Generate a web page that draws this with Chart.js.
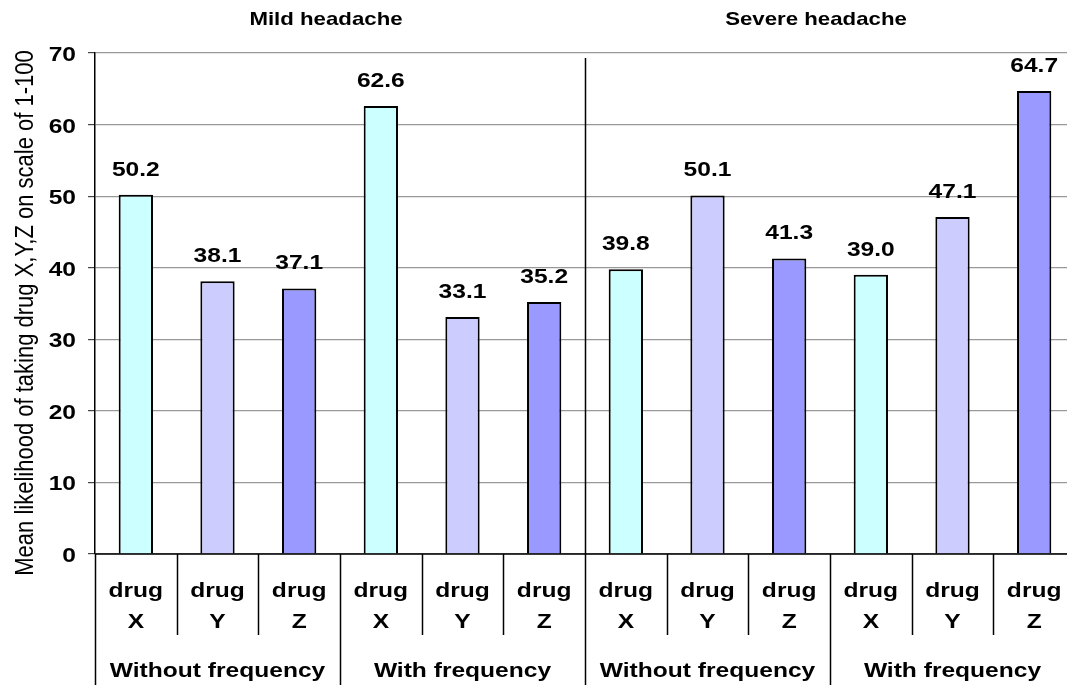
<!DOCTYPE html>
<html>
<head>
<meta charset="utf-8">
<title>Likelihood of taking drug X, Y, Z</title>
<script src="https://cdn.jsdelivr.net/npm/chart.js@4.4.1/dist/chart.umd.min.js"></script>
<style>
  html, body { margin: 0; padding: 0; background: #fff; overflow: hidden; }
  canvas { display: block; }
</style>
</head>
<body>
<!-- plot runs a few pixels past the right edge of the window -->
<canvas id="drugChart" width="1076" height="685"></canvas>
<script>
// chart data
const panels = ['Mild headache', 'Severe headache'];
const frequencyGroups = ['Without frequency', 'With frequency', 'Without frequency', 'With frequency'];
const drugLetters = ['X', 'Y', 'Z', 'X', 'Y', 'Z', 'X', 'Y', 'Z', 'X', 'Y', 'Z'];
const likelihood = [50.2, 38.1, 37.1, 62.6, 33.1, 35.2, 39.8, 50.1, 41.3, 39.0, 47.1, 64.7];
const yTicks = [0, 10, 20, 30, 40, 50, 60, 70];
const yTitle = 'Mean likelihood of taking drug X,Y,Z on scale of 1-100';

const drugColors = { X: '#CCFFFF', Y: '#CCCCFF', Z: '#9999FF' };
const FONT = "'Liberation Sans', Arial, sans-serif";
const STRETCH = 1.17;

function drawText(ctx, str, x, y, font, align) {
    ctx.save();
    ctx.translate(x, y);
    ctx.scale(STRETCH, 1);
    ctx.font = font;
    ctx.textAlign = align || 'center';
    ctx.textBaseline = 'alphabetic';
    ctx.fillText(str, 0, 0);
    ctx.restore();
}

function drawLine(ctx, x1, y1, x2, y2) {
    ctx.beginPath();
    ctx.moveTo(x1, y1);
    ctx.lineTo(x2, y2);
    ctx.stroke();
}

// labels, category boxes and panel titles
const headacheLabels = {
    id: 'headacheLabels',
    afterDatasetsDraw(chart) {
        const ctx = chart.ctx;
        const area = chart.chartArea;
        const y = chart.scales.y;
        const step = (area.right - area.left) / drugLetters.length;
        const edge = k => area.left + k * step;

        ctx.save();
        ctx.fillStyle = '#000';
        ctx.strokeStyle = '#000';
        ctx.lineWidth = 1.5;

        drawLine(ctx, area.left, area.bottom, area.right, area.bottom);

        for (let k = 0; k <= drugLetters.length; k++) {
            const ex = Math.round(edge(k)) + 0.5;
            drawLine(ctx, ex, area.bottom, ex, k % 3 === 0 ? chart.height : 635);
            if (k === 6) drawLine(ctx, ex, area.top + 5, ex, area.bottom);
        }

        chart.getDatasetMeta(0).data.forEach((bar, i) => {
            drawText(ctx, likelihood[i].toFixed(1), bar.x, bar.y - 19, 'bold 21px ' + FONT);
        });

        drugLetters.forEach((d, i) => {
            const cx = edge(i + 0.5);
            drawText(ctx, 'drug', cx, 597, 'bold 21px ' + FONT);
            drawText(ctx, d, cx, 628, 'bold 21px ' + FONT);
        });

        frequencyGroups.forEach((g, j) => {
            drawText(ctx, g, edge(3 * j + 1.5), 677, 'bold 21px ' + FONT);
        });

        panels.forEach((p, j) => {
            drawText(ctx, p, edge(6 * j + 3) - 14, 25, 'bold 19px ' + FONT);
        });

        yTicks.forEach(v => {
            drawText(ctx, String(v), 76, y.getPixelForValue(v) + 8, 'bold 21px ' + FONT, 'right');
        });

        ctx.save();
        ctx.translate(33, 313);
        ctx.scale(STRETCH, 1);
        ctx.rotate(-Math.PI / 2);
        ctx.font = '22px ' + FONT;
        ctx.textAlign = 'center';
        ctx.textBaseline = 'alphabetic';
        ctx.fillText(yTitle, 0, 0);
        ctx.restore();

        ctx.restore();
    }
};

new Chart(document.getElementById('drugChart'), {
    type: 'bar',
    data: {
        labels: drugLetters.map(d => 'drug ' + d),
        datasets: [{
            data: likelihood,
            backgroundColor: drugLetters.map(d => drugColors[d]),
            borderColor: '#000',
            borderWidth: 2,
            barPercentage: 0.42,
            categoryPercentage: 1
        }]
    },
    options: {
        responsive: false,
        animation: false,
        devicePixelRatio: 1,
        layout: { padding: { top: 53, right: 1, bottom: 131, left: 0 } },
        plugins: {
            legend: { display: false },
            tooltip: { enabled: false },
            title: { display: false }
        },
        scales: {
            x: { display: false },
            y: {
                min: 0,
                max: 70,
                afterFit(scale) { scale.width = 95; },
                afterBuildTicks(scale) { scale.ticks = yTicks.map(v => ({ value: v })); },
                ticks: { display: false },
                grid: { color: '#999', tickColor: '#444', tickLength: 7, lineWidth: 1.2 },
                border: { color: '#000', width: 1.5 }
            }
        }
    },
    plugins: [headacheLabels]
});
</script>
</body>
</html>
